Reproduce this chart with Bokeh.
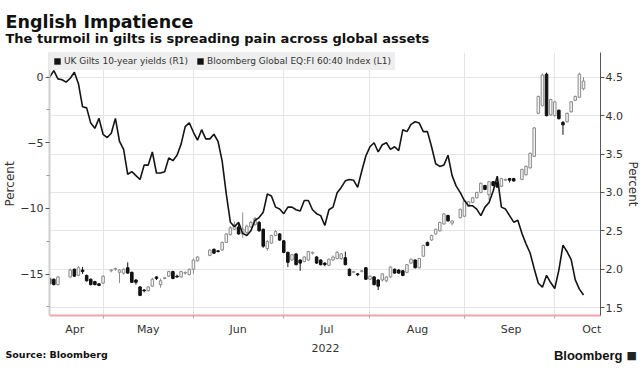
import numpy as np
from bokeh.plotting import figure
from bokeh.layouts import column
from bokeh.models import (Range1d, LinearAxis, FixedTicker, Legend, LegendItem,
                          Label, ColumnDataSource, Grid, PrintfTickFormatter)
from bokeh.embed import file_html
from bokeh.resources import INLINE

# trading-day index: 0 = 12 Apr 2022 ... 130 = 11 Oct 2022 (None = UK holiday, no gilt print)
trading_day = list(range(131))

gilt_open = [1.88, 1.87, 1.80, None, None, 1.90, 2.00, 1.92, 1.99, 1.92,
             1.87, 1.84, 1.81, 1.82, None, 1.98, 2.00, 1.96, 1.95, 2.02,
             1.96, 1.86, 1.77, 1.73, 1.72, 1.78, 1.90, 1.80, 1.88, 1.91,
             1.97, 1.91, 1.90, 1.95, 1.93, 2.00, 2.11, None, None, 2.18,
             2.26, 2.24, 2.25, 2.35, 2.45, 2.52, 2.55, 2.46, 2.48, 2.55,
             2.58, 2.61, 2.52, 2.27, 2.34, 2.44, 2.46, 2.37, 2.22, 2.12,
             2.20, 2.12, 2.10, 2.12, 2.21, 2.16, 2.12, 2.08, 2.05, 2.12,
             2.14, 2.14, 2.15, 2.00, 1.96, 1.94, 1.97, 2.02, 1.87, 1.90,
             1.86, 1.86, 1.85, 1.90, 2.00, 1.99, 1.98, 1.96, 2.08, 2.12,
             2.02, 2.17, 2.35, 2.38, 2.46, 2.50, 2.59, 2.70, 2.60, None,
             2.67, 2.69, 2.82, 2.87, 2.93, 3.00, 3.09, 2.97, 3.14, 3.13,
             3.08, 3.16, 3.18, 3.18, None, 3.17, 3.23, 3.32, 3.47, 4.03,
             4.13, 4.54, 4.01, 4.00, 4.07, 3.91, 3.92, 4.05, 4.20, 4.24,
             4.35]

gilt_close = [1.81, 1.80, 1.90, None, None, 1.99, 1.91, 2.02, 1.97, 1.85,
              1.80, 1.80, 1.79, 1.91, None, 1.99, 2.01, 1.99, 2.00, 1.95,
              1.83, 1.83, 1.66, 1.72, 1.77, 1.87, 1.88, 1.85, 1.89, 1.97,
              1.88, 1.90, 1.97, 1.96, 2.00, 2.12, 2.16, None, None, 2.25,
              2.21, 2.23, 2.35, 2.46, 2.54, 2.58, 2.46, 2.52, 2.56, 2.61,
              2.66, 2.50, 2.30, 2.36, 2.44, 2.49, 2.38, 2.22, 2.09, 2.19,
              2.06, 2.08, 2.16, 2.23, 2.22, 2.08, 2.06, 2.06, 2.13, 2.16,
              2.22, 2.20, 2.06, 1.92, 1.97, 1.93, 1.98, 1.87, 1.91, 1.80,
              1.78, 1.94, 1.90, 2.03, 1.95, 1.95, 1.92, 2.06, 2.13, 2.02,
              2.14, 2.31, 2.31, 2.44, 2.52, 2.61, 2.72, 2.63, 2.63, None,
              2.78, 2.89, 2.88, 2.93, 3.00, 3.12, 3.04, 3.14, 3.09, 3.07,
              3.18, 3.17, 3.16, 3.15, None, 3.30, 3.34, 3.51, 3.84, 4.25,
              4.53, 4.00, 4.21, 4.18, 3.96, 3.88, 4.03, 4.18, 4.25, 4.54,
              4.45]

gilt_high = [1.90, 1.88, 1.91, None, None, 2.01, 2.01, 2.04, 2.03, 1.93,
             1.88, 1.85, 1.82, 1.92, None, 2.00, 2.02, 2.00, 2.01, 2.09,
             1.97, 1.87, 1.78, 1.74, 1.78, 1.89, 1.91, 1.88, 1.90, 1.98,
             1.98, 1.93, 1.98, 1.97, 2.01, 2.14, 2.17, None, None, 2.26,
             2.27, 2.25, 2.36, 2.47, 2.56, 2.62, 2.60, 2.74, 2.58, 2.63,
             2.68, 2.63, 2.53, 2.38, 2.45, 2.51, 2.47, 2.38, 2.23, 2.20,
             2.21, 2.13, 2.17, 2.24, 2.23, 2.17, 2.13, 2.09, 2.14, 2.18,
             2.24, 2.21, 2.23, 2.01, 1.98, 1.95, 1.99, 2.03, 1.92, 1.91,
             1.87, 1.95, 1.91, 2.04, 2.01, 2.00, 1.99, 2.07, 2.14, 2.13,
             2.15, 2.32, 2.36, 2.45, 2.53, 2.62, 2.73, 2.71, 2.64, None,
             2.79, 2.90, 2.89, 2.94, 3.01, 3.13, 3.10, 3.15, 3.15, 3.18,
             3.19, 3.18, 3.19, 3.19, None, 3.31, 3.35, 3.52, 3.85, 4.26,
             4.55, 4.56, 4.22, 4.19, 4.08, 3.93, 4.04, 4.19, 4.26, 4.56,
             4.50]

gilt_low = [1.79, 1.79, 1.79, None, None, 1.89, 1.90, 1.91, 1.94, 1.84,
            1.79, 1.79, 1.78, 1.81, None, 1.96, 1.98, 1.82, 1.93, 1.94,
            1.82, 1.80, 1.65, 1.70, 1.71, 1.77, 1.86, 1.76, 1.87, 1.90,
            1.87, 1.89, 1.89, 1.93, 1.92, 1.94, 2.10, None, None, 2.17,
            2.20, 2.22, 2.24, 2.34, 2.44, 2.51, 2.45, 2.41, 2.46, 2.54,
            2.57, 2.49, 2.28, 2.24, 2.33, 2.43, 2.37, 2.21, 2.03, 2.11,
            2.05, 1.98, 2.09, 2.11, 2.19, 2.07, 2.05, 2.04, 2.04, 2.11,
            2.13, 2.12, 2.05, 1.91, 1.95, 1.91, 1.96, 1.86, 1.86, 1.79,
            1.73, 1.84, 1.83, 1.89, 1.94, 1.94, 1.91, 1.95, 2.07, 2.01,
            2.01, 2.16, 2.30, 2.37, 2.45, 2.49, 2.58, 2.62, 2.57, None,
            2.66, 2.68, 2.81, 2.86, 2.92, 2.99, 3.03, 2.90, 3.08, 3.06,
            3.07, 3.15, 3.13, 3.14, None, 3.16, 3.22, 3.31, 3.46, 4.02,
            4.12, 3.99, 4.00, 3.99, 3.95, 3.75, 3.91, 4.04, 4.19, 4.23,
            4.33]

# Bloomberg Global EQ:FI 60:40 Index, % change since start
index_pct = [0.0, 0.5, -0.13, -0.2, -0.38, -0.08, 0.38, -0.5, -2.26, -2.34,
             -3.5, -3.9, -3.14, -4.35, -4.6, -4.27, -3.14, -4.9, -5.5, -7.4,
             -7.2, -7.5, -7.8, -6.7, -6.7, -5.7, -7.3, -7.3, -7.2, -6.15,
             -6.36, -5.95, -5.1, -3.77, -3.47, -4.2, -4.8, -4.0, -4.7, -4.7,
             -4.35, -4.9, -6.4, -8.9, -11.05, -11.4, -11.05, -11.9, -12.06, -11.7,
             -10.9, -10.7, -10.3, -8.9, -9.05, -9.9, -10.05, -10.4, -9.9, -9.9,
             -10.1, -10.2, -9.4, -9.4, -10.1, -10.4, -10.55, -11.3, -10.1, -9.9,
             -8.8, -8.4, -7.9, -7.8, -7.85, -8.4, -7.15, -6.0, -5.3, -5.0,
             -5.7, -5.15, -5.0, -5.5, -5.3, -5.6, -4.0, -4.15, -3.6, -3.4,
             -3.5, -4.15, -4.15, -5.3, -6.6, -6.8, -6.7, -5.95, -7.5, -8.3,
             -8.8, -9.4, -9.8, -9.8, -10.05, -10.55, -9.9, -9.55, -8.67, -7.54,
             -9.9, -10.05, -10.55, -11.05, -10.9, -11.9, -12.7, -13.4, -14.6, -15.7,
             -16.0, -15.1, -15.65, -16.1, -14.7, -12.8, -13.3, -13.9, -15.45, -16.15,
             -16.6]

month_labels = ["Apr", "May", "Jun", "Jul", "Aug", "Sep", "Oct"]
month_label_pos = [6.1, 24.0, 45.9, 67.5, 89.6, 112.4, 132.0]
month_end_day = [13, 35, 57, 78, 101, 123]
left_ticks = [0, -5, -10, -15]
left_minor = [-2.5, -7.5, -12.5, -17.5]
right_ticks = [1.5, 2.0, 2.5, 3.0, 3.5, 4.0, 4.5]
year_label = "2022"

series_names = ["UK Gilts 10-year yields (R1)", "Bloomberg Global EQ:FI 60:40 Index (L1)"]
title_text = "English Impatience"
subtitle_text = "The turmoil in gilts is spreading pain across global assets"
source_text = "Source: Bloomberg"
logo_text = "Bloomberg"

FONT = "DejaVu Sans"
TXT = "#333333"
W = 642

x = np.array(trading_day, dtype=float)
o = np.array(gilt_open, dtype=float)
c = np.array(gilt_close, dtype=float)
h = np.array(gilt_high, dtype=float)
lo = np.array(gilt_low, dtype=float)
up = c >= o
dn = c < o

src_up = ColumnDataSource(dict(x=x[up], top=c[up], bottom=o[up], hi=h[up], lo=lo[up]))
src_dn = ColumnDataSource(dict(x=x[dn], top=o[dn], bottom=c[dn], hi=h[dn], lo=lo[dn]))


def text_panel(height, y_top):
    f = figure(width=W, height=height, x_range=Range1d(0, W), y_range=Range1d(y_top + height, y_top),
               x_axis_type=None, y_axis_type=None, output_backend="svg", toolbar_location=None,
               min_border=0, min_border_left=0, min_border_right=0, min_border_top=0,
               min_border_bottom=0, frame_align=False)
    f.outline_line_color = None
    f.grid.visible = False
    f.background_fill_color = "white"
    f.border_fill_color = "white"
    return f


# ---- header ----
head = text_panel(52, 0)
head.add_layout(Label(x=5, y=21, text=title_text, text_font=FONT, text_font_size="17.5px",
                      text_font_style="bold", text_color="#111111", text_baseline="alphabetic"))
head.add_layout(Label(x=5, y=37.5, text=subtitle_text, text_font=FONT, text_font_size="13px",
                      text_font_style="bold", text_color="#111111", text_baseline="alphabetic"))

# ---- main chart ----
p = figure(width=W, height=286, x_range=Range1d(-0.05, 134.14),
           y_range=Range1d(-18.16, 1.88), output_backend="svg", toolbar_location=None,
           min_border_left=47, min_border_right=42, min_border_top=0, min_border_bottom=20,
           frame_align=False)
p.outline_line_color = None
p.background_fill_color = "white"
p.border_fill_color = "white"
p.extra_y_ranges = {"yld": Range1d(1.398, 4.822)}

p.ygrid.visible = False
p.xgrid.ticker = FixedTicker(ticks=month_end_day)
p.xgrid.grid_line_color = "#e4e4e4"
p.add_layout(Grid(dimension=1, ticker=FixedTicker(ticks=right_ticks), y_range_name="yld",
                  grid_line_color="#e4e4e4"))

p.segment(x0="x", y0="lo", x1="x", y1="hi", source=src_up, y_range_name="yld",
          line_color="#8c8c8c", line_width=1)
p.segment(x0="x", y0="lo", x1="x", y1="hi", source=src_dn, y_range_name="yld",
          line_color="#111111", line_width=1)
p.vbar(x="x", top="top", bottom="bottom", width=0.62, source=src_up, y_range_name="yld",
       fill_color="#f4f4f4", line_color="#8c8c8c", line_width=1)
p.vbar(x="x", top="top", bottom="bottom", width=0.62, source=src_dn, y_range_name="yld",
       fill_color="#111111", line_color="#111111", line_width=1)

p.line(x, index_pct, line_color="#141414", line_width=1.6)

ax = p.yaxis[0]
ax.ticker = FixedTicker(ticks=left_ticks, minor_ticks=left_minor)
ax.axis_label = "Percent"
ax.axis_label_text_font = FONT
ax.axis_label_text_font_size = "12px"
ax.axis_label_text_font_style = "normal"
ax.axis_label_text_color = TXT
ax.axis_label_standoff = 0
ax.axis_line_color = "#d0d0d0"
ax.axis_line_width = 2
ax.major_tick_out = 4
ax.major_tick_in = 0
ax.minor_tick_out = 3
ax.minor_tick_in = 0
ax.major_tick_line_color = "#555555"
ax.minor_tick_line_color = "#999999"
ax.major_label_text_font = FONT
ax.major_label_text_font_size = "11px"
ax.major_label_text_color = TXT
ax.major_label_standoff = 2

axr = LinearAxis(y_range_name="yld", ticker=FixedTicker(ticks=right_ticks),
                 formatter=PrintfTickFormatter(format="%.1f"), axis_label="Percent")
axr.axis_label_text_font = FONT
axr.axis_label_text_font_size = "12px"
axr.axis_label_text_font_style = "normal"
axr.axis_label_text_color = TXT
axr.axis_label_standoff = 0
axr.axis_line_color = "#555555"
axr.major_tick_out = 4
axr.major_tick_in = 0
axr.minor_tick_out = 0
axr.minor_tick_in = 0
axr.major_tick_line_color = "#555555"
axr.major_label_text_font = FONT
axr.major_label_text_font_size = "11px"
axr.major_label_text_color = TXT
axr.major_label_standoff = 1
p.add_layout(axr, "right")

xa = p.xaxis[0]
xa.ticker = FixedTicker(ticks=month_label_pos, minor_ticks=month_end_day)
xa.major_label_overrides = {pos: lab for pos, lab in zip(month_label_pos, month_labels)}
xa.axis_line_color = "#f0a4aa"
xa.axis_line_width = 2
xa.major_tick_out = 0
xa.major_tick_in = 0
xa.minor_tick_out = 3
xa.minor_tick_in = 0
xa.minor_tick_line_color = "#aaaaaa"
xa.major_label_text_font = FONT
xa.major_label_text_font_size = "11px"
xa.major_label_text_color = TXT
xa.major_label_standoff = 4

# legend swatches (no visible data)
nan_src = ColumnDataSource(dict(l=[np.nan], r=[np.nan], t=[np.nan], b=[np.nan]))
sw1 = p.quad(left="l", right="r", top="t", bottom="b", source=nan_src, fill_color="#111111", line_color=None)
sw2 = p.quad(left="l", right="r", top="t", bottom="b", source=nan_src, fill_color="#111111", line_color=None)
legend = Legend(items=[LegendItem(label=series_names[0], renderers=[sw1]),
                       LegendItem(label=series_names[1], renderers=[sw2])],
                location="top_left", orientation="horizontal", margin=0, padding=4,
                spacing=8, glyph_width=8, glyph_height=8, label_standoff=3,
                label_height=9, label_text_font=FONT, label_text_font_size="9px",
                label_text_color=TXT, background_fill_color="#eeeeee", background_fill_alpha=1,
                border_line_alpha=0)
p.add_layout(legend, "center")

# ---- footer ----
foot = text_panel(28, 338)
foot.add_layout(Label(x=325, y=347, text=year_label, text_font=FONT, text_font_size="11px",
                      text_color=TXT, text_baseline="alphabetic", text_align="center"))
foot.add_layout(Label(x=5, y=354, text=source_text, text_font=FONT, text_font_size="9.5px",
                      text_font_style="bold", text_color="#111111", text_baseline="alphabetic"))
foot.add_layout(Label(x=622, y=355, text=logo_text, text_font="Liberation Sans",
                      text_font_size="13px", text_font_style="bold", text_color="#111111",
                      text_baseline="alphabetic", text_align="right"))
foot.add_layout(Label(x=626, y=355, text="■", text_font=FONT, text_font_size="11px",
                      text_color="#222222", text_baseline="alphabetic", text_align="left"))

layout = column(head, p, foot, spacing=0)
open("out.html", "w").write(file_html(layout, INLINE))
